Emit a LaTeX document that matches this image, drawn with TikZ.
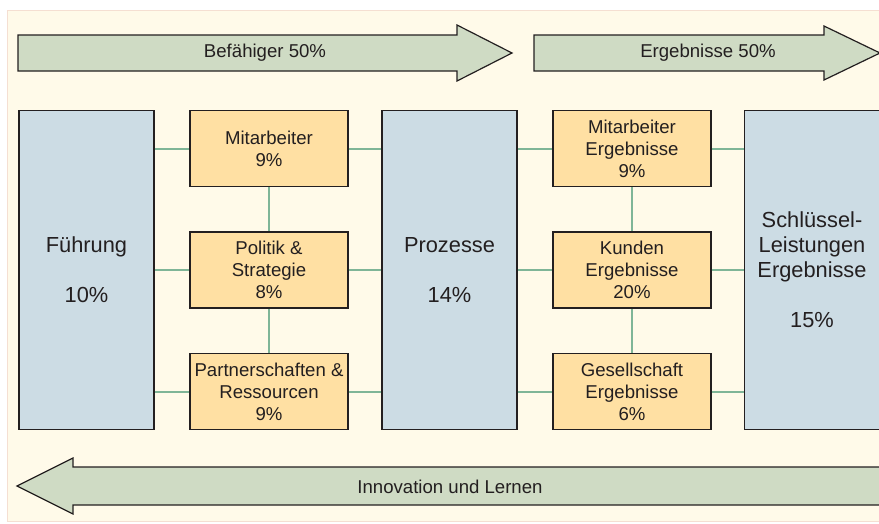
\documentclass[tikz,border=0pt]{standalone}
\usepackage{fontspec}
\setmainfont{Liberation Sans}

\definecolor{creme}{HTML}{FFFAE9}
\definecolor{cremerand}{HTML}{F5DFD2}
\definecolor{pfeilgruen}{HTML}{CFDBC4}
\definecolor{kastenblau}{HTML}{CCDCE4}
\definecolor{kastenorange}{HTML}{FFE0A3}
\definecolor{liniengruen}{HTML}{7FB597}
\definecolor{schrift}{HTML}{231F20}

\tikzset{
    grossbox/.style={draw=schrift, line width=1.8pt, fill=kastenblau, minimum width=135pt,
        minimum height=319pt, align=center, text=schrift, font=\fontsize{21.8}{25}\selectfont},
    kleinbox/.style={draw=schrift, line width=1.8pt, fill=kastenorange, minimum width=158pt,
        minimum height=76pt, inner sep=0pt, align=center, text=schrift, font=\fontsize{18.6}{22}\selectfont},
    verbindung/.style={draw=liniengruen, line width=2pt},
    pfeil/.style={draw=schrift, line width=1.2pt, fill=pfeilgruen, line join=miter},
    pfeiltext/.style={text=schrift, font=\fontsize{18.6}{22}\selectfont}
}

\begin{document}
\begin{tikzpicture}[x=1pt, y=-1pt]

    % Frame and background
    \clip (0,0) rectangle (879,523);
    \fill[white] (0,0) rectangle (879,523);
    \draw[fill=creme, draw=cremerand, line width=1pt] (7,10) rectangle (900,521);

    % Arrows on top
    \draw[pfeil] (18,35) -- (457,35) -- (457,25) -- (512,53) -- (457,81) -- (457,71) -- (18,71) -- cycle;
    \node[pfeiltext] (befaehiger) at (265,53) {Befähiger 50\%};
    \draw[pfeil] (534,35) -- (824,35) -- (824,26) -- (880,53) -- (824,80) -- (824,71) -- (534,71) -- cycle;
    \node[pfeiltext] (ergebnisse) at (708,53) {Ergebnisse 50\%};

    % Enablers
    \node[grossbox] (fuehrung) at (86.5,270) {Führung\\[25pt]10\%};
    \node[kleinbox] (mitarb) at (269,148.5) {Mitarbeiter\\9\%};
    \node[kleinbox] (politik) at (269,270) {Politik \&\\Strategie\\8\%};
    \node[kleinbox] (partner) at (269,391.5) {Partnerschaften \&\\Ressourcen\\9\%};
    \node[grossbox] (prozesse) at (449.5,270) {Prozesse\\[25pt]14\%};

    % Results
    \node[kleinbox] (mitergeb) at (632,148.5) {Mitarbeiter\\Ergebnisse\\9\%};
    \node[kleinbox] (kunden) at (632,270) {Kunden\\Ergebnisse\\20\%};
    \node[kleinbox] (gesell) at (632,391.5) {Gesellschaft\\Ergebnisse\\6\%};
    \node[grossbox] (schluessel) at (812,270) {Schlüssel-\\Leistungen\\Ergebnisse\\[25pt]15\%};

    % Horizontal links
    \foreach \k in {mitarb, politik, partner} {
        \draw[verbindung] (fuehrung.east |- \k) -- (\k.west);
        \draw[verbindung] (\k.east) -- (prozesse.west |- \k);
    }
    \foreach \k in {mitergeb, kunden, gesell} {
        \draw[verbindung] (prozesse.east |- \k) -- (\k.west);
        \draw[verbindung] (\k.east) -- (schluessel.west |- \k);
    }

    % Vertical links
    \draw[verbindung] (mitarb.south) -- (politik.north);
    \draw[verbindung] (politik.south) -- (partner.north);
    \draw[verbindung] (mitergeb.south) -- (kunden.north);
    \draw[verbindung] (kunden.south) -- (gesell.north);

    % Arrow at the bottom
    \draw[pfeil] (890,467) -- (73,467) -- (73,458) -- (17,486) -- (73,514) -- (73,505) -- (890,505) -- cycle;
    \node[pfeiltext] (innovation) at (450,487) {Innovation und Lernen};

\end{tikzpicture}
\end{document}
